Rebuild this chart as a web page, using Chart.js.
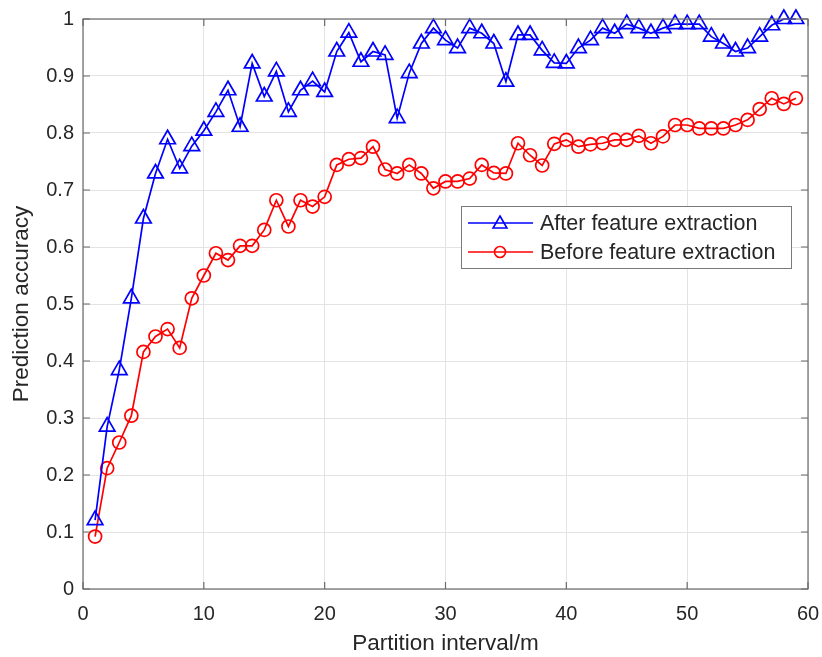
<!DOCTYPE html>
<html><head><meta charset="utf-8">
<script src="https://cdn.jsdelivr.net/npm/chart.js@4/dist/chart.umd.min.js"></script>
<style>html,body{margin:0;padding:0;background:#fff}#wrap{width:822px;height:657px}</style>
</head><body><div id="wrap"><canvas id="c" width="822" height="657"></canvas></div>
<script>
const partitionInterval = [1,2,3,4,5,6,7,8,9,10,11,12,13,14,15,16,17,18,19,20,21,22,23,24,25,26,27,28,29,30,31,32,33,34,35,36,37,38,39,40,41,42,43,44,45,46,47,48,49,50,51,52,53,54,55,56,57,58,59];
const afterExtraction = [0.121,0.285,0.384,0.510,0.650,0.729,0.789,0.738,0.777,0.804,0.837,0.875,0.811,0.922,0.864,0.908,0.837,0.875,0.891,0.872,0.943,0.976,0.925,0.943,0.937,0.826,0.905,0.957,0.984,0.963,0.949,0.984,0.975,0.957,0.890,0.972,0.972,0.945,0.923,0.922,0.949,0.963,0.984,0.975,0.991,0.984,0.975,0.984,0.991,0.991,0.991,0.969,0.957,0.943,0.949,0.969,0.989,1.000,1.000];
const beforeExtraction = [0.092,0.212,0.257,0.304,0.416,0.443,0.456,0.423,0.510,0.550,0.589,0.577,0.602,0.602,0.630,0.682,0.636,0.682,0.671,0.688,0.744,0.754,0.756,0.776,0.736,0.729,0.744,0.729,0.703,0.715,0.715,0.720,0.744,0.730,0.729,0.782,0.761,0.743,0.781,0.788,0.776,0.780,0.782,0.788,0.788,0.795,0.782,0.794,0.814,0.814,0.808,0.808,0.808,0.814,0.823,0.842,0.861,0.851,0.861];
const xTickValues = [0,10,20,30,40,50,60];
const yTickValues = [0,0.1,0.2,0.3,0.4,0.5,0.6,0.7,0.8,0.9,1];
const seriesNames = ['After feature extraction','Before feature extraction'];

const FONT = 'Liberation Sans, Arial, sans-serif';
const AXIS_COLOR = '#6b6b6b';
const TEXT_COLOR = '#262626';

const boxTicks = {
  id: 'boxTicks',
  afterDatasetsDraw(chart) {
    const {ctx, chartArea: a, scales: {x, y}} = chart;
    ctx.save();
    ctx.strokeStyle = AXIS_COLOR;
    ctx.lineWidth = 1.2;
    ctx.strokeRect(a.left, a.top, a.right - a.left, a.bottom - a.top);
    const tl = 7;
    ctx.beginPath();
    xTickValues.forEach(v => {
      const px = x.getPixelForValue(v);
      ctx.moveTo(px, a.bottom); ctx.lineTo(px, a.bottom - tl);
      ctx.moveTo(px, a.top); ctx.lineTo(px, a.top + tl);
    });
    yTickValues.forEach(v => {
      const py = y.getPixelForValue(v);
      ctx.moveTo(a.left, py); ctx.lineTo(a.left + tl, py);
      ctx.moveTo(a.right, py); ctx.lineTo(a.right - tl, py);
    });
    ctx.stroke();
    ctx.restore();
  }
};

function drawTri(ctx, cx, cy, r) {
  ctx.beginPath();
  for (let i = 0; i < 3; i++) {
    const ang = i * 2 * Math.PI / 3;
    const px = cx + Math.sin(ang) * r, py = cy - Math.cos(ang) * r;
    if (i === 0) ctx.moveTo(px, py); else ctx.lineTo(px, py);
  }
  ctx.closePath();
  ctx.stroke();
}

const legendBox = {
  id: 'legendBox',
  afterDraw(chart) {
    const ctx = chart.ctx;
    const L = 461, T = 206, W = 330, H = 62;
    ctx.save();
    ctx.fillStyle = '#ffffff';
    ctx.fillRect(L, T, W, H);
    ctx.strokeStyle = '#7a7a7a';
    ctx.lineWidth = 1;
    ctx.strokeRect(L + 0.5, T + 0.5, W, H);
    const rows = [
      {y: T + 17, color: '#0000ff', shape: 'tri', label: seriesNames[0]},
      {y: T + 46, color: '#ff0000', shape: 'circ', label: seriesNames[1]}
    ];
    rows.forEach(r => {
      ctx.strokeStyle = r.color;
      ctx.lineWidth = 1.6;
      ctx.beginPath(); ctx.moveTo(468, r.y); ctx.lineTo(533, r.y); ctx.stroke();
      if (r.shape === 'tri') drawTri(ctx, 500, r.y + 1, 8);
      else { ctx.beginPath(); ctx.arc(500, r.y, 5.5, 0, Math.PI * 2); ctx.stroke(); }
      ctx.fillStyle = TEXT_COLOR;
      ctx.font = '21.5px ' + FONT;
      ctx.textBaseline = 'middle';
      ctx.textAlign = 'left';
      ctx.fillText(r.label, 540, r.y + 1);
    });
    ctx.restore();
  }
};

const toPts = (ys) => ys.map((v, i) => ({x: partitionInterval[i], y: v}));

new Chart(document.getElementById('c'), {
  type: 'scatter',
  data: {
    datasets: [
      {label: seriesNames[0], data: toPts(afterExtraction), showLine: true, clip: false, borderColor: '#0000ff', borderWidth: 1.7,
       pointStyle: 'triangle', pointRadius: 9, pointBorderWidth: 1.7, pointBorderColor: '#0000ff', pointBackgroundColor: 'rgba(0,0,0,0)'},
      {label: seriesNames[1], data: toPts(beforeExtraction), showLine: true, clip: false, borderColor: '#ff0000', borderWidth: 1.7,
       pointStyle: 'circle', pointRadius: 6.5, pointBorderWidth: 1.7, pointBorderColor: '#ff0000', pointBackgroundColor: 'rgba(0,0,0,0)'}
    ]
  },
  options: {
    responsive: false, animation: false, devicePixelRatio: 1,
    layout: {padding: {top: 19, right: 14, left: 0, bottom: 0}},
    plugins: {legend: {display: false}, tooltip: {enabled: false}},
    scales: {
      x: {
        type: 'linear', min: 0, max: 60,
        afterBuildTicks: (s) => { s.ticks = xTickValues.map(v => ({value: v})); },
        afterFit: (s) => { s.height = 68; s.paddingLeft = 0; s.paddingRight = 0; },
        ticks: {color: TEXT_COLOR, font: {family: FONT, size: 20}, padding: 13, maxRotation: 0},
        grid: {color: '#e3e3e3', drawTicks: false, lineWidth: 1},
        border: {display: false},
        title: {display: true, text: 'Partition interval/m', color: TEXT_COLOR, font: {family: FONT, size: 22.5}, padding: {top: 0, bottom: 0}}
      },
      y: {
        min: 0, max: 1,
        afterBuildTicks: (s) => { s.ticks = yTickValues.map(v => ({value: v})); },
        afterFit: (s) => { s.width = 83; s.paddingTop = 0; s.paddingBottom = 0; },
        ticks: {color: TEXT_COLOR, font: {family: FONT, size: 20}, padding: 9, callback: (v) => String(Math.round(v * 10) / 10)},
        grid: {color: '#e3e3e3', drawTicks: false, lineWidth: 1},
        border: {display: false},
        title: {display: true, text: 'Prediction accuracy', color: TEXT_COLOR, font: {family: FONT, size: 22.5}, padding: {top: 8, bottom: 0}}
      }
    }
  },
  plugins: [boxTicks, legendBox]
});
</script></body></html>
